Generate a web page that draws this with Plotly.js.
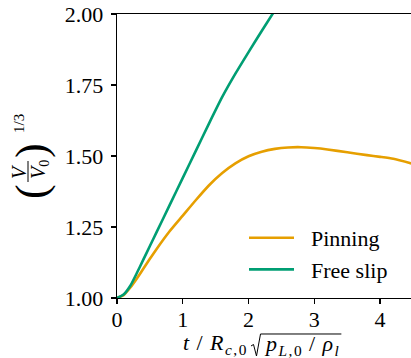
<!DOCTYPE html>
<html>
<head>
<meta charset="utf-8">
<script src="https://cdn.plot.ly/plotly-3.0.1.min.js"></script>
<style>
html,body{margin:0;padding:0;overflow:hidden;background:#fff;}
#chart{width:413px;height:358px;}
</style>
</head>
<body>
<div id="chart"></div>
<script>
// Pinning series
var pinX = [0, 0.1, 0.2, 0.3, 0.4, 0.5, 0.6, 0.8, 1.0, 1.2, 1.4, 1.6, 1.8, 2.0, 2.2, 2.4, 2.6, 2.8, 3.0, 3.2, 3.5, 3.8, 4.0, 4.2, 4.5];
var pinY = [1.0, 1.01, 1.036, 1.068, 1.103, 1.138, 1.172, 1.235, 1.29, 1.345, 1.397, 1.44, 1.474, 1.499, 1.515, 1.525, 1.53, 1.531, 1.528, 1.523, 1.513, 1.503, 1.497, 1.49, 1.472];
// Free slip series
var slipX = [0, 0.1, 0.2, 0.3, 0.4, 0.5, 0.6, 0.8, 1.0, 1.2, 1.4, 1.6, 1.8, 2.0, 2.2, 2.4];
var slipY = [1.0, 1.012, 1.042, 1.087, 1.135, 1.183, 1.231, 1.327, 1.423, 1.519, 1.615, 1.708, 1.79, 1.866, 1.94, 2.013];
var seriesNames = ["Pinning", "Free slip"];
var xTicks = [0, 1, 2, 3, 4];
var yTicks = [1.00, 1.25, 1.50, 1.75, 2.00];

var FONT = "Liberation Serif";
var L = 117, T = 14, B = 60, W = 413, H = 358;
var PW = W - L, PH = H - B - T;

function ann(text, px, py, size, extra) {
  var a = {
    xref: "paper", yref: "paper", x: 0, y: 0,
    xanchor: "center", yanchor: "middle",
    xshift: px - L, yshift: (H - B) - py,
    text: text, showarrow: false, textangle: -90,
    font: {family: FONT, size: size, color: "#000"}
  };
  for (var k in extra) a[k] = extra[k];
  return a;
}
function px2x(px) { return (px - L) / PW; }
function py2y(py) { return (H - B - py) / PH; }
function radicalPath(right) {
  var pts = [[251, 346], [253.5, 344.5], [256.5, 356], [260.5, 334], [right, 334]];
  return pts.map(function(p, i){ return (i ? "L" : "M") + px2x(p[0]).toFixed(5) + "," + py2y(p[1]).toFixed(5); }).join(" ");
}

var traces = [
  {x: pinX, y: pinY, mode: "lines", name: seriesNames[0],
   line: {color: "#E69F00", width: 2.6, shape: "spline", smoothing: 0.6}},
  {x: slipX, y: slipY, mode: "lines", name: seriesNames[1],
   line: {color: "#009E73", width: 2.6, shape: "spline", smoothing: 0.6}}
];

var layout = {
  width: W, height: H,
  margin: {l: L, r: 0, t: T, b: B},
  paper_bgcolor: "#fff", plot_bgcolor: "#fff",
  font: {family: FONT, size: 22, color: "#000"},
  showlegend: true,
  legend: {x: px2x(244), y: py2y(217), xanchor: "left", yanchor: "top",
           bgcolor: "rgba(0,0,0,0)", font: {family: FONT, size: 22, color: "#000"},
           itemwidth: 57, tracegroupgap: 0},
  xaxis: {
    range: [0, 4.5], tickvals: xTicks, ticktext: xTicks.map(String),
    showline: true, mirror: true, linecolor: "#000", linewidth: 1.3,
    ticks: "outside", ticklen: 5, tickwidth: 1.3, tickcolor: "#000",
    showgrid: false, zeroline: false, ticklabelstandoff: -4,
    tickfont: {family: FONT, size: 22, color: "#000"}
  },
  yaxis: {
    range: [1.0, 2.0], tickvals: yTicks, ticktext: yTicks.map(function(v){return v.toFixed(2);}),
    showline: true, mirror: true, linecolor: "#000", linewidth: 1.3,
    ticks: "outside", ticklen: 5, tickwidth: 1.3, tickcolor: "#000",
    showgrid: false, zeroline: false, ticklabelstandoff: 3,
    tickfont: {family: FONT, size: 22, color: "#000"}
  },
  annotations: [
    ann("<i>V</i>", 19, 172, 20),
    ann("<i>V</i><sub>0</sub>", 39, 170, 20),
    ann("(", 31, 192, 44),
    ann(")", 31, 151, 44),
    ann("1/3", 19, 124, 15),
    // x-axis title pieces
    ann("<span style='letter-spacing:1.5px'><i>t</i>\u2009/\u2009<i>R</i><sub><i>c</i>,0</sub></span>", 250, 344, 22, {textangle: 0, xanchor: "right"}),
    ann("<span style='letter-spacing:1.5px'><i>p</i><sub><i>L</i>,0</sub>\u2009/\u2009<i>ρ</i><sub><i>l</i></sub></span>", 262, 345, 22, {textangle: 0, xanchor: "left"})
  ],
  shapes: [
    {type: "line", xref: "paper", yref: "paper",
     x0: px2x(28), x1: px2x(28), y0: py2y(182), y1: py2y(161),
     line: {color: "#000", width: 1}},
    {type: "path", xref: "paper", yref: "paper", path: radicalPath(343),
     line: {color: "#000", width: 1}}
  ]
};

Plotly.newPlot("chart", traces, layout, {staticPlot: true, displayModeBar: false}).then(function(gd){
  var nodes = gd.querySelectorAll(".annotation");
  var last = nodes[nodes.length - 1];
  var p = Promise.resolve();
  if (last) {
    var r = last.querySelector(".annotation-text").getBoundingClientRect();
    var gr = gd.getBoundingClientRect();
    var right = r.right - gr.left + 1;
    var shapes = gd.layout.shapes.slice();
    shapes[1] = Object.assign({}, shapes[1], {path: radicalPath(right)});
    p = Plotly.relayout(gd, {shapes: shapes});
  }
  p.then(function(){
    gd.querySelectorAll(".legendlines path").forEach(function(el){ el.setAttribute("d", "M5,0h45"); });
  });
});
</script>
</body>
</html>
